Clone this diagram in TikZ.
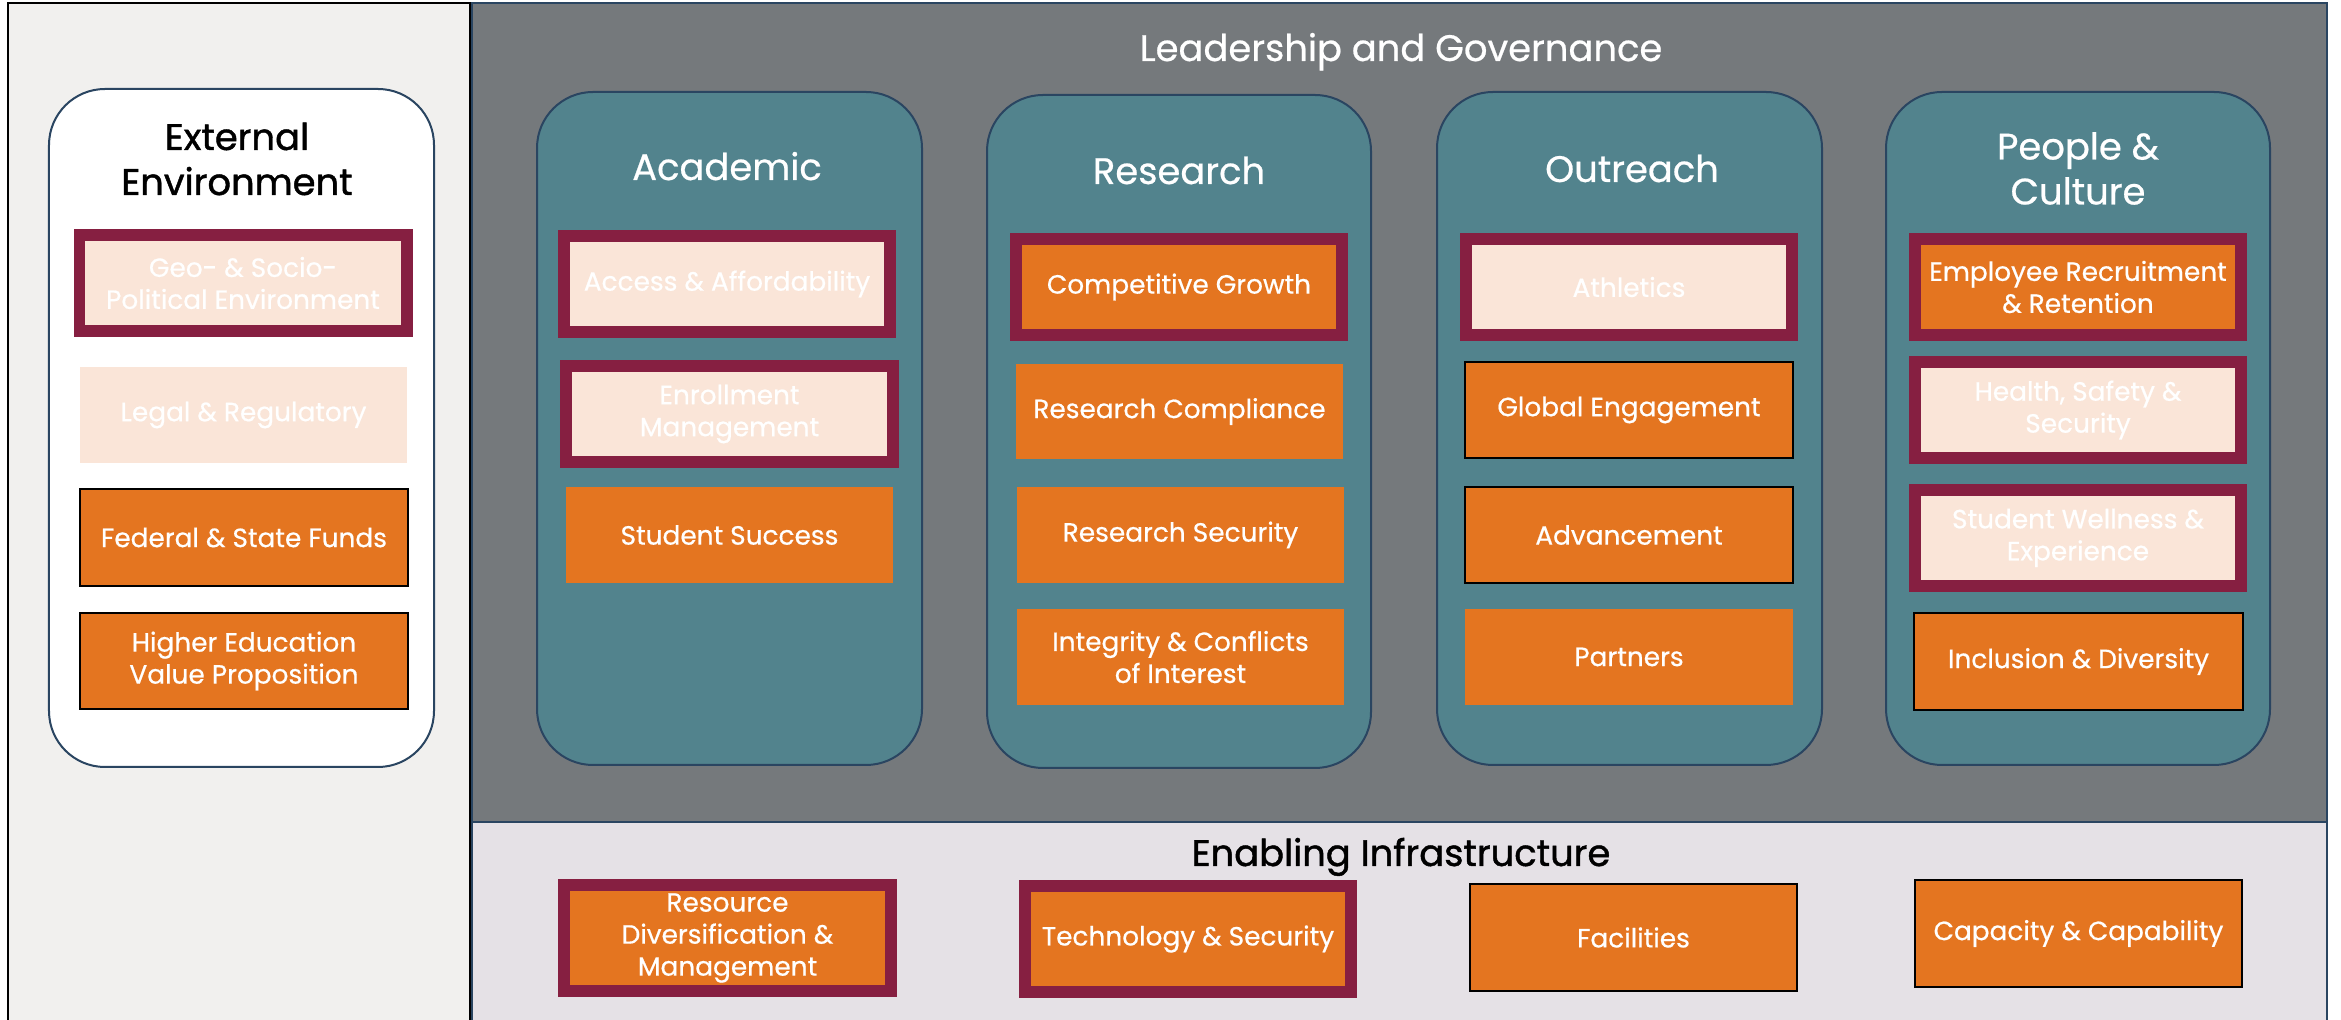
\documentclass[tikz,border=0pt]{standalone}
\usepackage{fontspec}
\setmainfont{Poppins}[FakeBold=0.6]
\newfontfamily\heavyfont{Poppins}[FakeBold=1.2]
\definecolor{vtgray}{HTML}{75797C}
\definecolor{vtteal}{HTML}{52838D}
\definecolor{vtnavy}{HTML}{2A4561}
\definecolor{vtorange}{HTML}{E47520}
\definecolor{vtmaroon}{HTML}{861F41}
\definecolor{vtpeach}{HTML}{FAE5D8}
\definecolor{sidepane}{HTML}{F1F0EE}
\definecolor{basepane}{HTML}{E5E1E6}
\tikzset{
	pane/.style={shape=rectangle, draw=vtnavy, line width=0.02cm},
	pillar/.style={shape=rectangle, rounded corners=0.56cm, fill=vtteal, draw=vtnavy, line width=0.02cm},
	head/.style={align=center, inner sep=0pt, text=white, font=\fontsize{10.5}{12.8}\selectfont},
	darkhead/.style={head, text=black, font=\fontsize{10.5}{12.8}\selectfont\heavyfont},
	item/.style={shape=rectangle, align=center, inner sep=0pt, text=white, font=\fontsize{7.5}{9.1}\selectfont},
	hot/.style={item, fill=vtorange},
	pale/.style={item, fill=vtpeach},
	outlined/.style={draw=black, line width=0.02cm},
	flagged/.style={draw=vtmaroon, line width=0.12cm},
}

\begin{document}
\begin{tikzpicture}
	\useasboundingbox (0, 0) rectangle (23.41, -10.2);
	% Panes and pillars:
	\node[pane, draw=black, fill=sidepane, minimum width=4.62cm, minimum height=10.27cm] (side) at (2.39, -5.165){};
	\node[pane, fill=basepane, minimum width=18.55cm, minimum height=2.08cm] (base) at (13.995, -9.26){};
	\node[pane, fill=vtgray, minimum width=18.55cm, minimum height=8.19cm] (lead) at (13.995, -4.125){};
	\node[pillar, fill=white, minimum width=3.85cm, minimum height=6.78cm] (ext) at (2.415, -4.28){};
	\node[pillar, minimum width=3.85cm, minimum height=6.73cm] (acad) at (7.295, -4.285){};
	\node[pillar, minimum width=3.84cm, minimum height=6.73cm] (res) at (11.79, -4.315){};
	\node[pillar, minimum width=3.85cm, minimum height=6.73cm] (out) at (16.295, -4.285){};
	\node[pillar, minimum width=3.84cm, minimum height=6.73cm] (ppl) at (20.78, -4.285){};
	% Headings:
	\node[head, anchor=base] (leadT) at (14.01, -0.61){Leadership and Governance};
	\node[darkhead, anchor=base] (baseT) at (14.01, -8.66){Enabling Infrastructure};
	\node[darkhead] (extT) at (2.37, -1.59){External\\Environment};
	\node[head, anchor=base] (acadT) at (7.27, -1.80){Academic};
	\node[head, anchor=base] (resT) at (11.79, -1.84){Research};
	\node[head, anchor=base] (outT) at (16.32, -1.82){Outreach};
	\node[head] (pplT) at (20.78, -1.685){People \&\\Culture};
	% External environment:
	\node[pale, flagged, minimum width=3.27cm, minimum height=0.96cm] (geo) at (2.43, -2.83){Geo- \& Socio-\\Political Environment};
	\node[pale, minimum width=3.27cm, minimum height=0.96cm] (legal) at (2.435, -4.15){Legal \& Regulatory};
	\node[hot, outlined, minimum width=3.28cm, minimum height=0.97cm] (funds) at (2.44, -5.375){Federal \& State Funds};
	\node[hot, outlined, minimum width=3.28cm, minimum height=0.96cm] (value) at (2.44, -6.61){Higher Education\\Value Proposition};
	% Academic:
	\node[pale, flagged, minimum width=3.26cm, minimum height=0.96cm] (access) at (7.27, -2.84){Access \& Affordability};
	\node[pale, flagged, minimum width=3.27cm, minimum height=0.96cm] (enrol) at (7.295, -4.14){Enrollment\\Management};
	\node[hot, minimum width=3.27cm, minimum height=0.96cm] (success) at (7.295, -5.35){Student Success};
	% Research:
	\node[hot, flagged, minimum width=3.26cm, minimum height=0.96cm] (growth) at (11.79, -2.87){Competitive Growth};
	\node[hot, minimum width=3.27cm, minimum height=0.95cm] (comply) at (11.795, -4.115){Research Compliance};
	\node[hot, minimum width=3.27cm, minimum height=0.96cm] (rsec) at (11.805, -5.35){Research Security};
	\node[hot, minimum width=3.27cm, minimum height=0.96cm] (coi) at (11.805, -6.57){Integrity \& Conflicts\\of Interest};
	% Outreach:
	\node[pale, flagged, minimum width=3.26cm, minimum height=0.96cm] (athl) at (16.29, -2.87){Athletics};
	\node[hot, outlined, minimum width=3.28cm, minimum height=0.96cm] (global) at (16.29, -4.10){Global Engagement};
	\node[hot, outlined, minimum width=3.28cm, minimum height=0.96cm] (adv) at (16.29, -5.35){Advancement};
	\node[hot, minimum width=3.28cm, minimum height=0.96cm] (partn) at (16.29, -6.57){Partners};
	% People & culture:
	\node[hot, flagged, minimum width=3.26cm, minimum height=0.96cm] (hire) at (20.78, -2.87){Employee Recruitment\\\& Retention};
	\node[pale, flagged, minimum width=3.26cm, minimum height=0.96cm] (safety) at (20.78, -4.10){Health, Safety \&\\Security};
	\node[pale, flagged, minimum width=3.26cm, minimum height=0.96cm] (well) at (20.78, -5.38){Student Wellness \&\\Experience};
	\node[hot, outlined, minimum width=3.29cm, minimum height=0.97cm] (incl) at (20.785, -6.615){Inclusion \& Diversity};
	% Enabling infrastructure:
	\node[hot, flagged, minimum width=3.27cm, minimum height=1.06cm] (resrc) at (7.275, -9.38){Resource\\Diversification \&\\Management};
	\node[hot, flagged, minimum width=3.26cm, minimum height=1.06cm] (tech) at (11.88, -9.39){Technology \& Security};
	\node[hot, outlined, minimum width=3.27cm, minimum height=1.07cm] (fac) at (16.335, -9.375){Facilities};
	\node[hot, outlined, minimum width=3.27cm, minimum height=1.07cm] (cap) at (20.785, -9.335){Capacity \& Capability};
\end{tikzpicture}
\end{document}
